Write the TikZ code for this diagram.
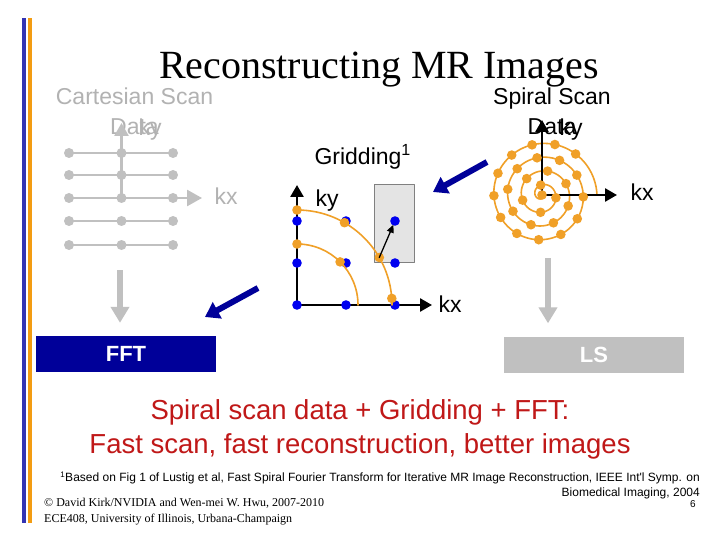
\documentclass[tikz,border=0pt]{standalone}
\usepackage{fontspec}
\setmainfont{Liberation Sans}
\newfontfamily\titlefont{Liberation Serif}
\newfontfamily\notefont{Liberation Sans}
\newfontfamily\copyfont{Liberation Serif}
\usetikzlibrary{arrows.meta}

\definecolor{barblue}{RGB}{51,51,179}
\definecolor{barorange}{RGB}{243,156,18}
\definecolor{navy}{RGB}{0,0,153}
\definecolor{ptorange}{RGB}{240,160,40}
\definecolor{ptblue}{RGB}{0,0,240}
\definecolor{cartgray}{RGB}{192,192,192}
\definecolor{cartlabel}{RGB}{178,178,178}
\definecolor{boxgray}{RGB}{228,228,228}
\definecolor{redtext}{RGB}{192,24,24}

\tikzset{
  label23/.style={font=\fontsize{23}{30}\selectfont,anchor=base},
  navyarrow/.style={navy,line width=6pt,line cap=butt,-{Triangle[width=18pt,length=14pt]}},
  grayarrow/.style={cartgray,line width=6pt,line cap=butt,-{Triangle[width=18pt,length=16pt]}},
  axisarrow/.style={black,line width=2.6pt,line cap=butt,-{Triangle[width=13pt,length=12pt]}},
  cartdot/.style={fill=cartgray},
  bluedot/.style={fill=ptblue},
  orangedot/.style={fill=ptorange},
  stagebox/.style={minimum width=180pt,minimum height=36pt,inner sep=0pt,text=white,
    font=\bfseries\fontsize{22}{26}\selectfont},
}

\begin{document}
\begin{tikzpicture}[line cap=round,line join=round,x=1pt,y=-1pt]
  \useasboundingbox (0,0) rectangle (720,540);
  \fill[white] (0,0) rectangle (720,540);
  \fill[barblue] (22,18) rectangle (26,523);
  \fill[barorange] (28,18) rectangle (32,523);

  \node[font=\titlefont\fontsize{40}{44}\selectfont,anchor=base] (title) at (379,79) {Reconstructing MR Images};

  % Cartesian scan data
  \node[label23,text=cartlabel] (carttext) at (134.5,105) {Cartesian Scan};
  \node[label23,text=cartlabel] (cartdata) at (134.5,135) {Data};
  \draw[cartgray,line width=2.6pt,line cap=butt,-{Triangle[width=14pt,length=13pt]}] (121.5,198) -- (121.5,123);
  \foreach \y in {153,175,198,221,245} {
    \draw[cartgray,line width=2.6pt] (69,\y) -- (173,\y);
    \foreach \x in {69,121.5,173}
      \fill[cartdot] (\x,\y) circle (5);
  }
  \draw[cartgray,line width=2.6pt,line cap=butt,-{Triangle[width=16pt,length=15pt]}] (173,198) -- (202,198);
  \node[label23,text=cartlabel,anchor=base west] (cartky) at (135,136) {ky};
  \node[label23,text=cartlabel,anchor=base west] (cartkx) at (211,205) {kx};

  % Gridding
  \node[label23,anchor=base west] (gridtext) at (311,165) {Gridding\textsuperscript{1}};
  \fill[boxgray,draw=gray,line width=0.8pt] (374,184) rectangle (414,262);
  \coordinate (gorig) at (297,305);
  \draw[axisarrow] (gorig) -- (297,185);
  \draw[axisarrow] (gorig) -- (432,305);
  \node[label23,anchor=base west] (gridky) at (312,207) {ky};
  \node[label23,anchor=base west] (gridkx) at (435,312) {kx};
  \foreach \x in {297,346,395}
    \foreach \y in {221,263,305}
      \fill[bluedot] (\x,\y) circle (4.8);
  \draw[ptorange,line width=1.6pt] (297,210) arc[start angle=-90,end angle=0,radius=95];
  \draw[ptorange,line width=1.6pt] (297,244) arc[start angle=-90,end angle=0,radius=61];
  \coordinate (og) at (379.3,257.5);
  \coordinate (bg) at (395,221);
  \foreach \p in {(297,210),(344.5,222.7),(379.3,257.5),(391.8,298.4),(297,244),(340.1,261.9)}
    \fill[orangedot] \p circle (4.8);
  \draw[black,line width=1.3pt,-{Triangle[width=7pt,length=8pt]},shorten >=4pt] (og) -- (bg);

  % Spiral scan data
  \node[label23] (spiraltext) at (552,105) {Spiral Scan};
  \node[label23] (spiraldata) at (552,135) {Data};
  \coordinate (sorig) at (542,195);
  \draw[ptorange,line width=1.6pt,shift={(sorig)}] plot[domain=0:1440,samples=240,smooth,variable=\t] ({\t}:{0.038194*\t});
  \draw[axisarrow] (sorig) -- (542,120);
  \draw[axisarrow] (sorig) -- (617,195);
  \fill[orangedot] (sorig) circle (4.8);
  \foreach \k in {1,...,28} {
    \pgfmathsetmacro\th{sqrt(21.0*\k)}
    \fill[orangedot,shift={(sorig)}] ({deg(\th)}:{2.188*\th}) circle (4.8);
  }
  \node[label23,anchor=base west] (spky) at (556,136) {ky};
  \node[label23,anchor=base west] (spkx) at (627,201) {kx};

  % stages
  \node[stagebox,fill=navy] (fft) at (126,354) {FFT};
  \node[stagebox,fill=cartgray] (ls) at (594,354.5) {LS};
  \coordinate (cartbase) at (120,270);
  \coordinate (spbase) at (548,258);
  \draw[grayarrow,shorten >=13pt] (cartbase) -- (cartbase |- fft.north);
  \draw[grayarrow,shorten >=13pt] (spbase) -- (spbase |- ls.north);
  \coordinate (sptail) at (487,162);
  \coordinate (sphead) at (433,192);
  \coordinate (grtail) at (258,288);
  \coordinate (grhead) at (205,317);
  \draw[navyarrow] (sptail) -- (sphead);
  \draw[navyarrow] (grtail) -- (grhead);

  % summary
  \node[font=\fontsize{27.5}{34}\selectfont,text=redtext,align=center,anchor=base] (summary) at (360,453)
    {Spiral scan data + Gridding + FFT:\\Fast scan, fast reconstruction, better images};

  % footnotes
  \node[font=\notefont\fontsize{12}{15}\selectfont,align=right,anchor=base east,inner sep=0pt] (refnote) at (700,496.5)
    {\textsuperscript{1}Based on Fig 1 of Lustig et al, Fast Spiral Fourier Transform for Iterative MR Image Reconstruction, IEEE Int'l Symp. on\\Biomedical Imaging, 2004};
  \node[font=\copyfont\fontsize{12}{15.5}\selectfont,align=left,anchor=base west,inner sep=0pt] (copyright) at (44,522)
    {\textcopyright{} David Kirk/NVIDIA and Wen-mei W. Hwu, 2007-2010\\ECE408, University of Illinois, Urbana-Champaign};
  \node[font=\fontsize{10}{12}\selectfont,anchor=base,inner sep=0pt] (pagenum) at (693,507) {6};
\end{tikzpicture}
\end{document}
